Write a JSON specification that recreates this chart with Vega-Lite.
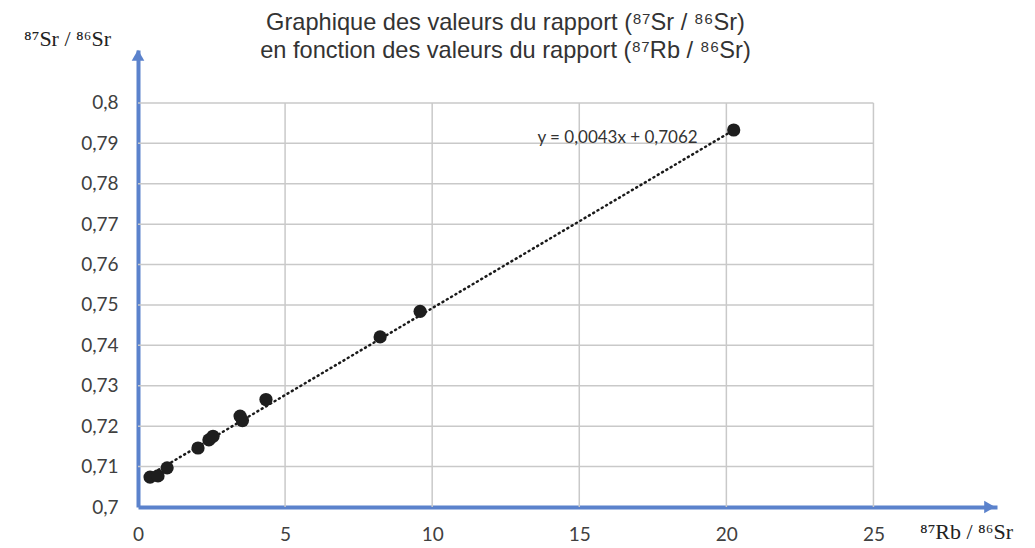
{
  "$schema": "https://vega.github.io/schema/vega-lite/v6.json",
  "width": 859,
  "height": 457,
  "autosize": "none",
  "padding": {"left": 138, "top": 50, "right": 38, "bottom": 41},
  "background": "white",
  "title": {
    "text": ["Graphique des valeurs du rapport (⁸⁷Sr / ⁸⁶Sr)", "en fonction des valeurs du rapport (⁸⁷Rb / ⁸⁶Sr)"],
    "font": "Liberation Sans",
    "fontSize": 23.6,
    "fontWeight": "normal",
    "color": "#333333",
    "lineHeight": 28,
    "anchor": "middle",
    "frame": "group",
    "dx": -62,
    "offset": -36
  },
  "config": {"view": {"stroke": null}},
  "datasets": {
    "points": [
      {"rb": 0.41, "sr": 0.7074},
      {"rb": 0.68, "sr": 0.7077},
      {"rb": 0.99, "sr": 0.7097},
      {"rb": 2.04, "sr": 0.7146},
      {"rb": 2.41, "sr": 0.7166},
      {"rb": 2.55, "sr": 0.7175},
      {"rb": 3.47, "sr": 0.7225},
      {"rb": 3.55, "sr": 0.7214},
      {"rb": 4.35, "sr": 0.7266},
      {"rb": 8.23, "sr": 0.7421},
      {"rb": 9.59, "sr": 0.7484},
      {"rb": 20.25, "sr": 0.7933}
    ],
    "trend": [
      {"rb": 0.4, "sr": 0.70792},
      {"rb": 20.25, "sr": 0.79328}
    ],
    "hgrid": [
      {"sr": 0.71}, {"sr": 0.72}, {"sr": 0.73}, {"sr": 0.74}, {"sr": 0.75},
      {"sr": 0.76}, {"sr": 0.77}, {"sr": 0.78}, {"sr": 0.79}, {"sr": 0.8}
    ],
    "vgrid": [
      {"rb": 5}, {"rb": 10}, {"rb": 15}, {"rb": 20}, {"rb": 25}
    ]
  },
  "layer": [
    {
      "data": {"name": "hgrid"},
      "mark": {"type": "rule", "color": "#c9c9c9", "strokeWidth": 1.5},
      "encoding": {
        "y": {
          "field": "sr", "type": "quantitative",
          "scale": {"domain": [0.7, 0.8131], "nice": false, "zero": false},
          "axis": {
            "values": [0.7, 0.71, 0.72, 0.73, 0.74, 0.75, 0.76, 0.77, 0.78, 0.79, 0.8],
            "labelExpr": "replace(format(datum.value, '.2~f'), '.', ',')",
            "grid": false,
            "ticks": false,
            "domainColor": "#5b82cc",
            "domainWidth": 4,
            "labelFont": "Lato",
            "labelFontSize": 19,
            "labelColor": "#404040",
            "labelPadding": 20,
            "labelFlush": false,
            "title": "⁸⁷Sr / ⁸⁶Sr",
            "titleFont": "Liberation Serif",
            "titleFontSize": 22,
            "titleFontWeight": "normal",
            "titleColor": "#222222",
            "titleAngle": 0,
            "titleAlign": "center",
            "titleBaseline": "middle",
            "titleX": -71,
            "titleY": -12
          }
        },
        "x": {"datum": 0, "type": "quantitative",
          "scale": {"domain": [0, 29.2], "nice": false, "zero": false},
          "axis": {
            "values": [0, 5, 10, 15, 20, 25],
            "grid": false,
            "ticks": false,
            "domainColor": "#5b82cc",
            "domainWidth": 4,
            "labelFont": "Lato",
            "labelFontSize": 19,
            "labelColor": "#404040",
            "labelPadding": 18,
            "labelFlush": false,
            "title": "⁸⁷Rb / ⁸⁶Sr",
            "titleFont": "Liberation Serif",
            "titleFontSize": 22,
            "titleFontWeight": "normal",
            "titleColor": "#222222",
            "titleAlign": "center",
            "titleBaseline": "middle",
            "titleX": 828,
            "titleY": 24
          }
        },
        "x2": {"datum": 25}
      }
    },
    {
      "data": {"name": "vgrid"},
      "mark": {"type": "rule", "color": "#c9c9c9", "strokeWidth": 1.5},
      "encoding": {
        "x": {"field": "rb", "type": "quantitative"},
        "y": {"datum": 0.7, "type": "quantitative"},
        "y2": {"datum": 0.8}
      }
    },
    {
      "data": {"name": "trend"},
      "mark": {"type": "line", "color": "#1a1a1a", "strokeWidth": 2.5, "strokeDash": [1, 4], "strokeCap": "round"},
      "encoding": {
        "x": {"field": "rb", "type": "quantitative"},
        "y": {"field": "sr", "type": "quantitative"}
      }
    },
    {
      "data": {"name": "points"},
      "mark": {"type": "point", "filled": true, "shape": "circle", "size": 175, "color": "#1e1e1e", "opacity": 1},
      "encoding": {
        "x": {"field": "rb", "type": "quantitative"},
        "y": {"field": "sr", "type": "quantitative"}
      }
    },
    {
      "data": {"values": [{}]},
      "mark": {"type": "text", "text": "y = 0,0043x + 0,7062", "font": "Lato", "fontSize": 17, "color": "#333333", "align": "center", "baseline": "middle"},
      "encoding": {
        "x": {"datum": 16.3, "type": "quantitative"},
        "y": {"datum": 0.7913, "type": "quantitative"}
      }
    },
    {
      "data": {"values": [{}]},
      "mark": {"type": "point", "filled": true, "shape": "triangle-up", "size": 160, "color": "#5b82cc", "opacity": 1},
      "encoding": {
        "x": {"datum": 0, "type": "quantitative"},
        "y": {"datum": 0.8118, "type": "quantitative"}
      }
    },
    {
      "data": {"values": [{}]},
      "mark": {"type": "point", "filled": true, "shape": "triangle-right", "size": 160, "color": "#5b82cc", "opacity": 1},
      "encoding": {
        "x": {"datum": 28.95, "type": "quantitative"},
        "y": {"datum": 0.7, "type": "quantitative"}
      }
    }
  ]
}
